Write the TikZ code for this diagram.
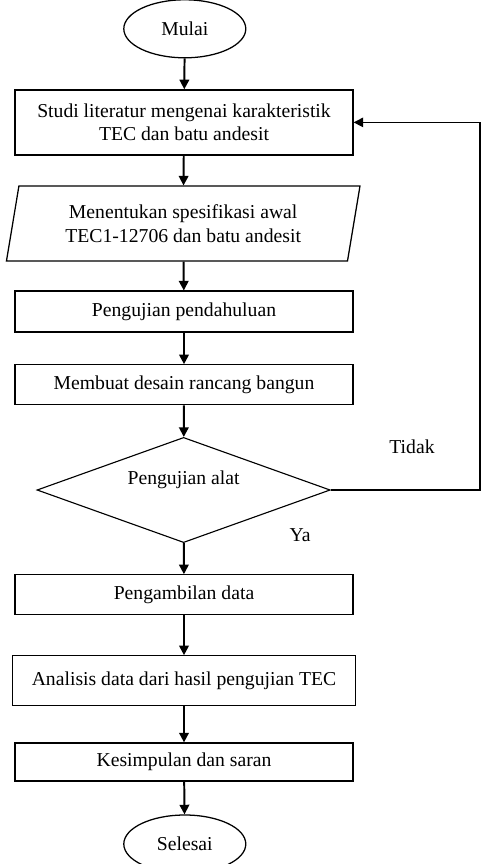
\documentclass[tikz,border=0pt]{standalone}
\usepackage{fontspec}
\setmainfont{Liberation Serif}
\usepackage{tikz}
\usetikzlibrary{arrows.meta,shapes.geometric}

\begin{document}
\begin{tikzpicture}[>={Triangle[length=2.4mm,width=2.4mm]},
  font=\fontsize{14}{16.5}\selectfont,
  stepbox/.style={draw, line width=0.9pt, minimum width=8.45cm, inner sep=2pt, align=center},
  termbox/.style={draw, ellipse, line width=0.9pt, minimum width=3.05cm, minimum height=1.45cm, inner sep=0pt},
  flow/.style={->, line width=1.4pt}]
  \useasboundingbox (0,0) rectangle (12.1,-21.6);
  % start
  \node[termbox] (mulai) at (4.62,-0.72) {Mulai};
  % process steps
  \node[stepbox, minimum height=1.625cm] (studi) at (4.6,-3.06) {Studi literatur mengenai karakteristik\\TEC dan batu andesit};
  \node[draw, trapezium, trapezium stretches=true, trapezium left angle=76.5, trapezium right angle=103.5,
    line width=0.9pt, minimum width=8.85cm, minimum height=1.875cm, inner sep=0pt, align=center]
    (spek) at (4.58,-5.59) {Menentukan spesifikasi awal\\TEC1-12706 dan batu andesit};
  \node[stepbox, minimum height=1.025cm] (awal) at (4.6,-7.79) {Pengujian pendahuluan};
  \node[stepbox, minimum height=1.0cm] (desain) at (4.6,-9.62) {Membuat desain rancang bangun};
  % decision
  \node[draw, diamond, aspect=2.8, line width=0.8pt, minimum width=7.33cm, minimum height=2.63cm, inner sep=0pt]
    (uji) at (4.59,-12.25) {};
  \node (ujitext) at (4.59,-12.0) {Pengujian alat};
  \node[stepbox, minimum height=1.0cm] (data) at (4.6,-14.87) {Pengambilan data};
  \node[stepbox, minimum height=1.25cm, minimum width=8.57cm] (analisis) at (4.6,-17.02) {Analisis data dari hasil pengujian TEC};
  \node[stepbox, minimum height=0.95cm] (simpul) at (4.6,-19.05) {Kesimpulan dan saran};
  % end
  \node[termbox] (selesai) at (4.62,-21.1) {Selesai};
  % main flow
  \draw[flow] (mulai) -- (studi);
  \draw[flow] (studi) -- (spek);
  \draw[flow] (spek) -- (awal);
  \draw[flow] (awal) -- (desain);
  \draw[flow] (desain) -- (uji);
  \draw[flow] (uji) -- (data);
  \draw[flow] (data) -- (analisis);
  \draw[flow] (analisis) -- (simpul);
  \draw[flow] (simpul) -- (selesai);
  % loop back when the test fails
  \coordinate (balik) at (12.0,-12.25);
  \draw[->, line width=0.8pt] (uji.east) -- (balik) |- (studi.east);
  \node (tidak) at (10.3,-11.17) {Tidak};
  \node (ya) at (7.5,-13.37) {Ya};
\end{tikzpicture}
\end{document}
